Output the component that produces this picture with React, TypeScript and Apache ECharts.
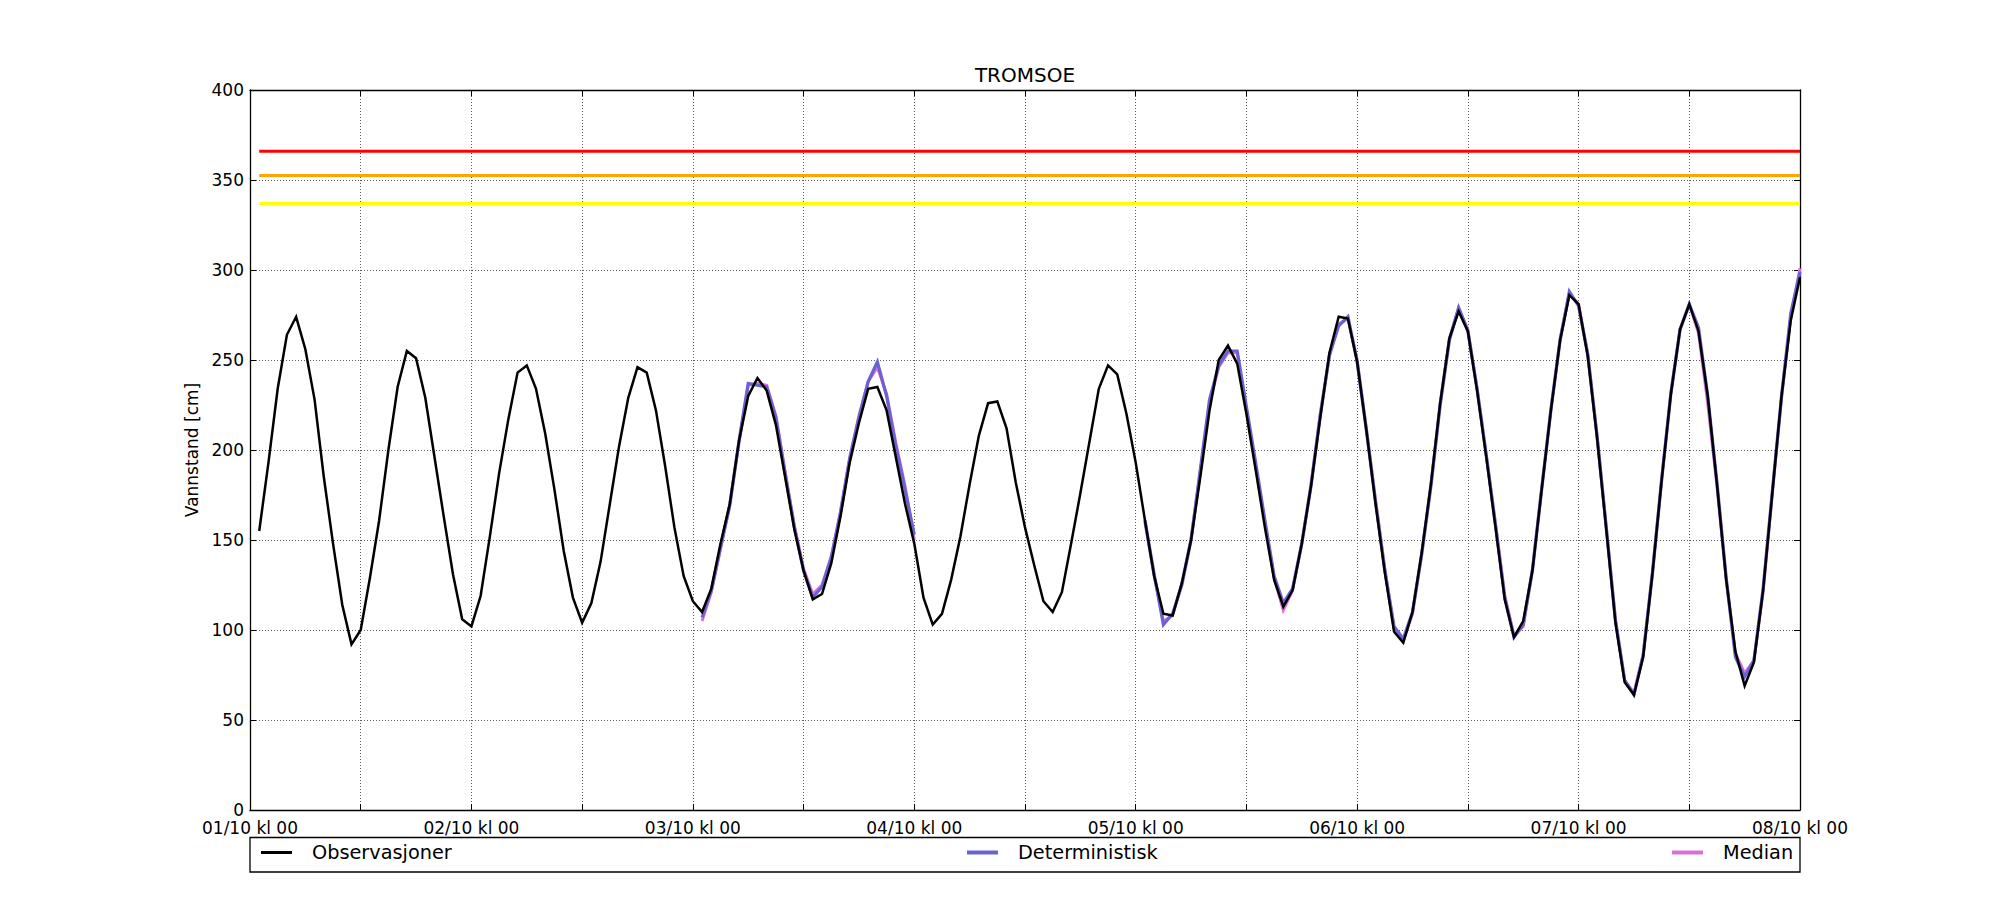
import React, { useEffect, useRef } from "react";
import * as echarts from "echarts";

// Hours since 01/10 kl 00
const OBS_START = 1;
const observasjoner = [
  155, 193, 234, 264, 274, 256, 228, 185, 148, 114, 92, 100, 129, 161, 200, 235, 255, 251, 229, 196, 163, 131, 106, 102,
  119, 152, 187, 217, 243, 247, 234, 209, 178, 144, 118, 104, 115, 138, 170, 202, 229, 246, 243, 222, 191, 157, 130, 116,
  110, 123, 148, 170, 205, 230, 240, 233, 214, 185, 156, 133, 117, 120, 137, 163, 193, 215, 234, 235, 222, 196, 170, 148,
  118, 103, 109, 128, 152, 181, 208, 226, 227, 212, 182, 157, 136, 116, 110, 121, 148, 176, 205, 234, 247, 242, 220, 193,
  161, 130, 109, 108, 126, 150, 185, 222, 250, 258, 248, 220, 189, 157, 128, 113, 122, 148, 180, 218, 254, 274, 273, 249,
  211, 170, 132, 99, 93, 110, 143, 181, 226, 262, 277, 266, 233, 196, 157, 117, 96, 105, 133, 178, 222, 261, 286, 281,
  252, 207, 156, 104, 71, 64, 85, 131, 183, 231, 267, 281, 266, 230, 181, 128, 88, 69, 82, 122, 176, 230, 272, 296,
];

const DET_A_START = 49;
const deterministiskA = [
  107, 122, 146, 169, 205, 237, 236, 235, 218, 187, 157, 133, 118, 124, 140, 165, 195, 218, 238, 249, 230, 202, 178, 153,
];
const DET_B_START = 97;
const deterministiskB = [
  161, 131, 103, 109, 125, 150, 189, 228, 247, 255, 255, 224, 193, 161, 130, 115, 123, 148, 180, 219, 253, 269, 274, 249,
  211, 171, 133, 102, 95, 110, 142, 180, 225, 261, 279, 266, 234, 197, 158, 118, 96, 103, 133, 178, 222, 261, 288, 280,
  253, 208, 157, 105, 72, 64, 86, 131, 183, 231, 267, 281, 268, 230, 182, 129, 85, 74, 83, 123, 177, 230, 276, 299,
];

const MED_A_START = 49;
const medianA = [
  105, 121, 145, 170, 204, 236, 237, 236, 219, 188, 158, 134, 120, 125, 141, 166, 196, 219, 238, 246, 231, 204, 180, 150,
];
const MED_B_START = 97;
const medianB = [
  160, 130, 105, 108, 126, 151, 188, 226, 246, 254, 254, 222, 191, 160, 129, 111, 122, 148, 181, 220, 252, 270, 273, 250,
  212, 172, 134, 101, 94, 109, 143, 181, 226, 262, 279, 267, 234, 197, 159, 119, 97, 102, 134, 179, 223, 262, 287, 281,
  253, 208, 157, 106, 72, 65, 86, 132, 184, 232, 267, 281, 265, 226, 180, 128, 87, 76, 83, 121, 176, 229, 274, 301,
];

const thresholdValues = [366, 352.5, 337];
const thresholdStart = 1;
const thresholdEnd = 168;

const X_MIN = 0;
const X_MAX = 168;
const X_STEP = 12;
const Y_MIN = 0;
const Y_MAX = 400;
const Y_STEP = 50;

const seriesNames = ["Observasjoner", "Deterministisk", "Median"];

const FONT = "DejaVu Sans";

function pairs(start: number, vals: number[]) {
  return vals.map((v, i) => [start + i, v]);
}

function pad2(n: number) {
  return n < 10 ? "0" + n : String(n);
}

function xLabel(v: number) {
  if (v % 24 !== 0) return "";
  return pad2(v / 24 + 1) + "/10 kl 00";
}

export default function App() {
  const ref = useRef<HTMLDivElement>(null);

  useEffect(() => {
    document.body.style.margin = "0";
    const chart = echarts.init(ref.current as HTMLDivElement, null, { renderer: "svg" });

    const gridLine = { show: true, lineStyle: { color: "#333", width: 0.8, type: [1, 2] as any } };
    const frameLine = { show: true, onZero: false, lineStyle: { color: "#000", width: 1.3 } };
    const tick = { show: true, inside: true, length: 6, lineStyle: { color: "#000", width: 1 } };
    const labelStyle = { color: "#000", fontSize: 17, fontFamily: FONT };

    const thresholdColors = ["#ff0000", "#ffa500", "#ffff00"];
    const thresholdSeries = thresholdValues.map((v, i) => ({
      type: "line",
      name: "terskel" + i,
      data: [
        [thresholdStart, v],
        [thresholdEnd, v],
      ],
      showSymbol: false,
      symbol: "none",
      silent: true,
      lineStyle: { color: thresholdColors[i], width: 3 },
      itemStyle: { color: thresholdColors[i] },
      z: 2,
    }));

    const lineSeries = (name: string, data: number[][], color: string, width: number, z: number) => ({
      type: "line",
      name,
      data,
      showSymbol: false,
      symbol: "none",
      lineStyle: { color, width, join: "miter" },
      itemStyle: { color },
      z,
    });

    const legendCommon = {
      orient: "horizontal",
      top: 843,
      padding: 0,
      icon: "rect",
      itemWidth: 31,
      selectedMode: false,
      textStyle: { color: "#000", fontSize: 19.3, fontFamily: FONT, padding: [0, 0, 0, 15] },
    };

    const option: any = {
      animation: false,
      backgroundColor: "#ffffff",
      textStyle: { fontFamily: FONT },
      title: {
        text: "TROMSOE",
        left: 1025,
        top: 65,
        textAlign: "center",
        padding: 0,
        textStyle: { color: "#000", fontSize: 20, fontWeight: "normal", fontFamily: FONT },
      },
      grid: { left: 250, top: 90, width: 1550, height: 720, containLabel: false },
      xAxis: [
        {
          type: "value",
          min: X_MIN,
          max: X_MAX,
          interval: X_STEP,
          position: "bottom",
          axisLine: frameLine,
          axisTick: tick,
          splitLine: gridLine,
          axisLabel: { ...labelStyle, lineHeight: 15, margin: 10, formatter: xLabel, showMinLabel: true, showMaxLabel: true },
        },
        {
          type: "value",
          min: X_MIN,
          max: X_MAX,
          interval: X_STEP,
          position: "top",
          axisLine: frameLine,
          axisTick: tick,
          splitLine: { show: false },
          axisLabel: { show: false },
        },
      ],
      yAxis: [
        {
          type: "value",
          min: Y_MIN,
          max: Y_MAX,
          interval: Y_STEP,
          position: "left",
          name: "Vannstand [cm]",
          nameLocation: "middle",
          nameRotate: 90,
          nameGap: 50,
          nameTextStyle: { color: "#000", fontSize: 17, fontFamily: FONT },
          axisLine: frameLine,
          axisTick: tick,
          splitLine: gridLine,
          axisLabel: { ...labelStyle, lineHeight: 13, margin: 6 },
        },
        {
          type: "value",
          min: Y_MIN,
          max: Y_MAX,
          interval: Y_STEP,
          position: "right",
          axisLine: frameLine,
          axisTick: tick,
          splitLine: { show: false },
          axisLabel: { show: false },
        },
      ],
      legend: [
        { ...legendCommon, left: 261, itemHeight: 3, data: [seriesNames[0]] },
        { ...legendCommon, left: 967, itemHeight: 4, data: [seriesNames[1]] },
        { ...legendCommon, left: 1672, itemHeight: 4, data: [seriesNames[2]] },
      ],
      graphic: [
        {
          type: "rect",
          shape: { x: 250, y: 837.5, width: 1550, height: 34.5 },
          style: { fill: "none", stroke: "#000", lineWidth: 1.3 },
          silent: true,
          z: 10,
        },
      ],
      series: [
        ...thresholdSeries,
        lineSeries(seriesNames[2], pairs(MED_A_START, medianA), "#da70d6", 3, 3),
        lineSeries(seriesNames[2], pairs(MED_B_START, medianB), "#da70d6", 3, 3),
        lineSeries(seriesNames[1], pairs(DET_A_START, deterministiskA), "#6a62d2", 3.2, 4),
        lineSeries(seriesNames[1], pairs(DET_B_START, deterministiskB), "#6a62d2", 3.2, 4),
        lineSeries(seriesNames[0], pairs(OBS_START, observasjoner), "#000000", 2.5, 5),
      ],
    };

    chart.setOption(option);
    return () => {
      chart.dispose();
    };
  }, []);

  return <div ref={ref} style={{ width: 2000, height: 900 }} />;
}
